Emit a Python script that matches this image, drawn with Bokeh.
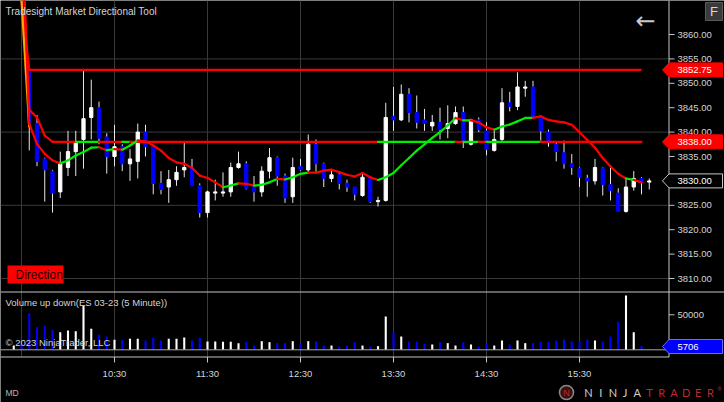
from bokeh.plotting import figure
from bokeh.models import ColumnDataSource, Range1d, Label
from bokeh.core.properties import value
from bokeh.embed import file_html
from bokeh.resources import INLINE

# ---------------- data (bar index: 0 = 09:30, one step = 5 minutes) ----------------
bar_index = list(range(1, 82))
opens = [3852.50, 3841.75, 3834.50, 3832.00, 3827.75, 3832.75, 3836.00, 3838.50, 3843.00, 3845.00,
         3839.00, 3835.00, 3837.00, 3833.50, 3834.00, 3840.00, 3837.00, 3829.50, 3828.75, 3830.25,
         3832.25, 3832.75, 3829.00, 3823.50, 3827.50, 3827.50, 3827.75, 3832.75, 3833.50, 3829.00,
         3827.75, 3832.00, 3834.75, 3831.00, 3826.75, 3833.00, 3832.25, 3837.50, 3833.50, 3830.50,
         3831.25, 3829.50, 3828.75, 3827.00, 3830.75, 3825.75, 3826.00, 3843.25, 3842.50, 3847.75,
         3844.00, 3842.50, 3841.25, 3842.00, 3840.75, 3841.75, 3844.00, 3837.50, 3842.50, 3840.25,
         3836.25, 3838.50, 3846.00, 3845.25, 3849.00, 3849.25, 3843.00, 3840.00, 3837.50, 3835.75,
         3833.50, 3832.50, 3830.50, 3830.00, 3832.50, 3829.25, 3827.50, 3823.75, 3828.75, 3830.50,
         3829.75]
highs = [3852.75, 3843.50, 3834.75, 3832.25, 3836.00, 3840.25, 3840.25, 3852.50, 3850.75, 3846.25,
         3839.75, 3841.50, 3837.50, 3836.50, 3841.75, 3841.50, 3837.25, 3832.00, 3832.25, 3833.00,
         3838.00, 3834.50, 3829.50, 3828.00, 3830.25, 3831.75, 3833.75, 3836.00, 3834.00, 3831.00,
         3833.00, 3836.75, 3835.00, 3831.50, 3834.75, 3834.50, 3839.50, 3838.50, 3833.75, 3832.25,
         3831.75, 3830.25, 3828.75, 3831.50, 3830.75, 3826.75, 3846.00, 3849.25, 3849.75, 3849.00,
         3847.50, 3844.75, 3843.50, 3845.00, 3845.50, 3845.25, 3845.25, 3842.75, 3843.00, 3842.00,
         3840.25, 3849.00, 3848.25, 3852.25, 3850.50, 3850.50, 3843.25, 3840.50, 3838.00, 3838.25,
         3835.50, 3832.75, 3831.25, 3834.50, 3832.75, 3833.25, 3828.50, 3830.50, 3832.00, 3830.75,
         3830.50]
lows = [3836.25, 3833.00, 3825.75, 3823.50, 3826.50, 3831.00, 3831.00, 3832.50, 3838.50, 3837.50,
        3831.50, 3833.00, 3832.00, 3830.00, 3830.50, 3835.00, 3827.25, 3827.25, 3825.50, 3829.00,
        3830.75, 3829.00, 3822.50, 3822.50, 3826.00, 3826.75, 3826.75, 3832.50, 3828.25, 3825.75,
        3826.75, 3830.50, 3829.00, 3825.50, 3825.50, 3832.00, 3831.50, 3831.50, 3828.75, 3829.75,
        3828.25, 3827.75, 3826.00, 3826.75, 3825.50, 3824.75, 3825.75, 3840.25, 3842.25, 3842.00,
        3840.75, 3840.25, 3840.25, 3838.50, 3838.75, 3841.50, 3836.75, 3837.25, 3840.00, 3835.25,
        3836.00, 3838.00, 3844.25, 3844.50, 3847.25, 3843.00, 3838.25, 3837.00, 3834.00, 3832.50,
        3831.25, 3828.75, 3826.75, 3829.25, 3827.00, 3826.00, 3823.75, 3823.50, 3828.00, 3827.25,
        3828.25]
closes = [3841.75, 3834.00, 3832.25, 3827.50, 3833.50, 3836.00, 3838.00, 3842.75, 3845.00, 3838.75,
          3835.00, 3837.00, 3833.50, 3834.50, 3840.00, 3837.00, 3829.50, 3828.25, 3830.25, 3831.75,
          3832.75, 3829.00, 3823.50, 3827.75, 3827.75, 3827.75, 3832.75, 3833.50, 3828.50, 3827.75,
          3832.00, 3834.75, 3831.00, 3826.50, 3832.75, 3832.25, 3837.50, 3833.50, 3830.50, 3831.25,
          3829.50, 3828.75, 3827.25, 3830.75, 3825.75, 3826.00, 3843.00, 3842.50, 3847.75, 3844.00,
          3842.00, 3841.75, 3842.00, 3840.50, 3841.75, 3844.00, 3838.00, 3842.50, 3840.50, 3836.50,
          3838.50, 3846.00, 3845.25, 3849.25, 3849.25, 3843.00, 3840.25, 3838.00, 3836.00, 3833.50,
          3832.75, 3830.75, 3830.00, 3832.75, 3829.25, 3828.00, 3823.75, 3828.75, 3830.50, 3829.75,
          3830.00]

vol_index = list(range(-1, 81))
volumes = [6100, 8000, 52300, 32300, 34700, 28600, 25100, 27600, 26600, 63300,
           30000, 21900, 19000, 14300, 14300, 15700, 15700, 13300, 17600, 13300,
           15700, 15700, 17600, 13300, 17100, 11900, 11900, 11400, 11400, 9500,
           10900, 6100, 12300, 10900, 9500, 9500, 12300, 8600, 12300, 12300,
           6100, 6100, 4700, 6100, 10900, 6100, 4700, 5200, 47600, 25100,
           19000, 11900, 11900, 8600, 7600, 10900, 9500, 6100, 10900, 7600,
           4700, 9500, 6100, 13300, 7600, 13300, 9500, 9500, 11900, 10900,
           13300, 14700, 11900, 11900, 14700, 13300, 11900, 19000, 40400, 77600,
           25100, 5706]
vol_up = [1, 0, 0, 0, 0, 0, 1, 1, 1, 1,
          1, 0, 0, 1, 0, 1, 1, 0, 0, 0,
          1, 1, 1, 0, 0, 1, 1, 1, 1, 1,
          0, 0, 1, 1, 0, 0, 1, 0, 1, 0,
          0, 1, 0, 0, 0, 1, 0, 1, 1, 0,
          1, 0, 0, 0, 1, 0, 1, 1, 0, 1,
          0, 0, 1, 1, 0, 1, 1, 0, 0, 0,
          0, 0, 0, 0, 0, 1, 0, 0, 0, 1,
          1, 0]

# day-high level line (red)
high_level_x = [0, 1, 80]
high_level_y = [3867.0, 3852.75, 3852.75]
# trailing stop line, direction per segment (1 = green, -1 = red)
stop_x = [0, 1, 2, 3, 4, 7, 10, 13, 14, 46, 56, 57, 59, 60, 67, 80]
stop_y = [3880.0, 3844.6, 3843.0, 3839.3, 3838.0, 3838.0, 3838.0, 3838.0, 3838.0, 3838.0,
          3838.0, 3838.0, 3838.0, 3838.0, 3838.0, 3838.0]
stop_dir = [-1, -1, -1, -1, -1, 1, -1, 1, -1, 1, -1, 1, -1, 1, -1]
# directional average (bars 0..80) and its direction per segment
avg_x = list(range(0, 81))
avg_y = [3885.0, 3841.7, 3837.6, 3835.55, 3834.2, 3833.6, 3834.2, 3835.2, 3835.9, 3836.8,
         3836.9, 3836.3, 3836.5, 3836.4, 3837.25, 3838.3, 3838.1, 3837.25, 3836.2, 3834.7,
         3833.8, 3833.5, 3832.7, 3831.1, 3830.6, 3829.7, 3828.7, 3829.05, 3829.5, 3829.4,
         3829.05, 3829.2, 3829.7, 3830.4, 3830.3, 3830.75, 3831.45, 3831.7, 3831.7, 3832.1,
         3832.3, 3831.8, 3831.25, 3830.9, 3831.6, 3830.75, 3830.2, 3830.75, 3831.6, 3833.2,
         3834.7, 3836.2, 3837.5, 3838.8, 3840.0, 3841.35, 3842.9, 3842.4, 3842.4, 3842.0,
         3841.0, 3840.5, 3841.15, 3841.55, 3842.2, 3842.9, 3842.9, 3843.25, 3842.5, 3842.2,
         3842.0, 3841.5, 3840.0, 3838.4, 3836.8, 3834.7, 3832.95, 3831.45, 3830.5, 3830.2,
         3829.7]
avg_dir = [-1, -1, -1, -1, -1, 1, 1, 1, 1, 1,
           -1, 1, -1, 1, 1, -1, -1, -1, -1, -1,
           -1, -1, -1, -1, -1, -1, 1, 1, -1, -1,
           1, 1, 1, -1, 1, 1, 1, -1, -1, -1,
           -1, -1, -1, -1, -1, -1, 1, 1, 1, 1,
           1, 1, 1, 1, 1, 1, -1, 1, -1, -1,
           -1, 1, 1, 1, 1, 1, -1, -1, -1, -1,
           -1, -1, -1, -1, -1, -1, -1, -1, 1, -1]
signal_x = [0, 1]
signal_y = [3867.0, 3841.0]

price_ticks = [3810, 3815, 3820, 3825, 3830, 3835, 3840, 3845, 3850, 3855, 3860]
price_grid = [3810, 3825, 3840, 3855]
time_bars = [0, 12, 24, 36, 48, 60, 72]
time_tick_bars = [12, 24, 36, 48, 60, 72]
time_tick_labels = ["10:30", "11:30", "12:30", "13:30", "14:30", "15:30"]
vol_ticks = [50000]
flag_levels = [3852.75, 3838.00]
last_price = 3830.00
last_volume = 5706

# ---------------- layout helpers (canvas pixel -> data) ----------------
FONT = "Liberation Sans"
TXT = "#d4d4d4"
GRIDC = "#3a3a3a"
AXC = "#c4c4c4"
UP = "#ffffff"
DN = "#0000ff"
RED = "#ff0000"
GRN = "#00ee00"
W, H = 724, 402


def kx(px):
    return (px - 21.0) / 7.75


def yp(py):
    return 3860.0 - (py - 34.0) / 4.88


def yv(py):
    return (349.3 - py) * 50000.0 / 35.0


p = figure(width=W, height=H, x_range=Range1d(kx(0), kx(W)), y_range=Range1d(yp(H), yp(0)),
           x_axis_location=None, y_axis_location=None, output_backend="svg",
           toolbar_location=None, background_fill_color="black", border_fill_color="black",
           outline_line_color=None, min_border=0)
p.grid.visible = False
p.extra_y_ranges = {"vol": Range1d(yv(H), yv(0))}

# ---------------- grid ----------------
p.segment(x0=time_bars, x1=time_bars, y0=[yp(356)] * len(time_bars),
          y1=[yp(0)] * len(time_bars), line_color=GRIDC, line_width=1)
p.segment(x0=[kx(0)] * len(price_grid), x1=[kx(668)] * len(price_grid),
          y0=price_grid, y1=price_grid, line_color=GRIDC, line_width=1)

# ---------------- candles ----------------
src = ColumnDataSource(dict(
    x=bar_index, o=opens, h=highs, l=lows, c=closes,
    top=[max(a, b) for a, b in zip(opens, closes)],
    bot=[min(a, b) for a, b in zip(opens, closes)],
    col=[UP if c >= o else DN for o, c in zip(opens, closes)]))
p.segment(x0="x", y0="l", x1="x", y1="h", source=src, line_color="#e6e6e6", line_width=1)
p.vbar(x="x", width=0.42, top="top", bottom="bot", source=src,
       fill_color="col", line_color="col", line_width=1)

# ---------------- indicator lines ----------------
p.line(high_level_x, high_level_y, line_color=RED, line_width=2.2)


def seg_colors(d):
    return [GRN if v > 0 else RED for v in d]


p.segment(x0=stop_x[:-1], y0=stop_y[:-1], x1=stop_x[1:], y1=stop_y[1:],
          line_color=seg_colors(stop_dir), line_width=2.2, line_cap="round")
p.line(signal_x, signal_y, line_color="#ffa500", line_width=2.2)
p.segment(x0=avg_x[:-1], y0=avg_y[:-1], x1=avg_x[1:], y1=avg_y[1:],
          line_color=seg_colors(avg_dir), line_width=2.2, line_cap="round")

# ---------------- volume ----------------
vsrc = ColumnDataSource(dict(x=vol_index, v=volumes,
                             col=[UP if u else DN for u in vol_up]))
p.vbar(x="x", width=0.27, top="v", bottom=0, source=vsrc, fill_color="col",
       line_color=None, y_range_name="vol")
p.segment(x0=[kx(0)], x1=[kx(668)], y0=[0], y1=[0], line_color="#a8a8a8",
          line_width=1, y_range_name="vol")

# ---------------- axes (frame lines, ticks, tick labels) ----------------
p.segment(x0=[kx(668.5), kx(0), kx(0)], x1=[kx(668.5), kx(W), kx(668.5)],
          y0=[yp(0), yp(291.5), yp(356.5)], y1=[yp(356.5), yp(291.5), yp(356.5)],
          line_color=AXC, line_width=1)
p.segment(x0=[kx(668.5)] * len(price_ticks), x1=[kx(674)] * len(price_ticks),
          y0=price_ticks, y1=price_ticks, line_color=AXC, line_width=1)
p.text(x=[kx(677)] * len(price_ticks), y=price_ticks, text=["%.2f" % t for t in price_ticks],
       text_font=value(FONT), text_font_size="9.5px", text_color=TXT,
       text_baseline="middle", text_align="left")
p.segment(x0=[kx(668.5)] * len(vol_ticks), x1=[kx(674)] * len(vol_ticks),
          y0=vol_ticks, y1=vol_ticks, line_color=AXC, line_width=1, y_range_name="vol")
p.text(x=[kx(677)] * len(vol_ticks), y=vol_ticks, text=["%d" % t for t in vol_ticks],
       text_font=value(FONT), text_font_size="9.5px", text_color=TXT,
       text_baseline="middle", text_align="left", y_range_name="vol")
p.segment(x0=time_tick_bars, x1=time_tick_bars, y0=[yp(356.5)] * len(time_tick_bars),
          y1=[yp(362)] * len(time_tick_bars), line_color=AXC, line_width=1)
p.text(x=time_tick_bars, y=[yp(373)] * len(time_tick_bars), text=time_tick_labels,
       text_font=value(FONT), text_font_size="9.5px", text_color=TXT,
       text_baseline="middle", text_align="center")


# ---------------- price / volume flags ----------------
def flag(yval, text, fill, border, yconv, half_px=7.0, rng="default"):
    ym = yval
    if rng == "vol":
        dy = half_px * 50000.0 / 35.0
    else:
        dy = half_px / 4.88
    xs = [kx(662), kx(668.5), kx(722), kx(722), kx(668.5)]
    ys = [ym, ym + dy, ym + dy, ym - dy, ym - dy]
    p.patch(xs, ys, fill_color=fill, line_color=border if border else fill, line_width=1,
            y_range_name=rng)
    p.text(x=[kx(677)], y=[ym], text=[text], text_font=value(FONT), text_font_size="9.5px",
           text_color="white", text_baseline="middle", text_align="left", y_range_name=rng)


flag(flag_levels[0], "%.2f" % flag_levels[0], RED, None, yp)
flag(flag_levels[1], "%.2f" % flag_levels[1], RED, None, yp)
flag(last_price, "%.2f" % last_price, "black", "#c8c8c8", yp)
flag(yv(346), str(last_volume), DN, "#6a6aff", yv, rng="vol")

# ---------------- texts ----------------
p.add_layout(Label(x=kx(5), y=yp(11), text="Tradesight Market Directional Tool",
                   text_baseline="middle", text_font=FONT, text_font_size="10px",
                   text_color=TXT))
p.add_layout(Label(x=kx(645), y=yp(20), text="\u2190", text_align="center",
                   text_baseline="middle", text_font="DejaVu Sans", text_font_size="24px",
                   text_color="#c8c8c8"))
p.quad(left=[kx(705)], right=[kx(722)], bottom=[yp(20)], top=[yp(2)],
       fill_color="#3a3a3a", line_color="#5a5a5a")
p.add_layout(Label(x=kx(713.5), y=yp(11), text="F", text_align="center",
                   text_baseline="middle", text_font=FONT, text_font_size="13px",
                   text_color="#d8d8d8"))
p.quad(left=[kx(7)], right=[kx(63)], bottom=[yp(283)], top=[yp(265)],
       fill_color=RED, line_color=None)
p.add_layout(Label(x=kx(15), y=yp(274), text="Direction", text_baseline="middle",
                   text_font=FONT, text_font_size="12px", text_color="#1a0000"))

p.add_layout(Label(x=kx(5), y=yp(302), text="Volume up down(ES 03-23 (5 Minute))",
                   text_baseline="middle", text_font=FONT, text_font_size="9.5px",
                   text_color=TXT))
p.add_layout(Label(x=kx(5), y=yp(342), text="\u00a9 2023 NinjaTrader, LLC",
                   text_baseline="middle", text_font=FONT, text_font_size="9.5px",
                   text_color=TXT))
p.add_layout(Label(x=kx(5), y=yp(392), text="MD", text_baseline="middle",
                   text_font=FONT, text_font_size="8.5px", text_color="#b8b8b8"))
logo = "NINJATRADER"
p.text(x=[kx(588 + i * 12.2) for i in range(len(logo))], y=[yp(392)] * len(logo),
       text=list(logo), text_font=value("Lato"), text_font_size="11px",
       text_color=["#cfcfcf"] * 5 + ["#c0282d"] * 6, text_align="center",
       text_baseline="middle")
p.text(x=[kx(719)], y=[yp(388)], text=["\u00ae"], text_font=value(FONT),
       text_font_size="6px", text_color="#c0282d", text_align="center",
       text_baseline="middle")
p.scatter(x=[kx(566)], y=[yp(392)], marker="circle", size=14, fill_color="#3a1010",
          line_color="#8a8a8a", line_width=1.5)
p.text(x=[kx(566)], y=[yp(392)], text=["N"], text_font=value(FONT), text_font_size="9px",
       text_color="#c0282d", text_align="center", text_baseline="middle")

open("out.html", "w").write(file_html(p, INLINE))
